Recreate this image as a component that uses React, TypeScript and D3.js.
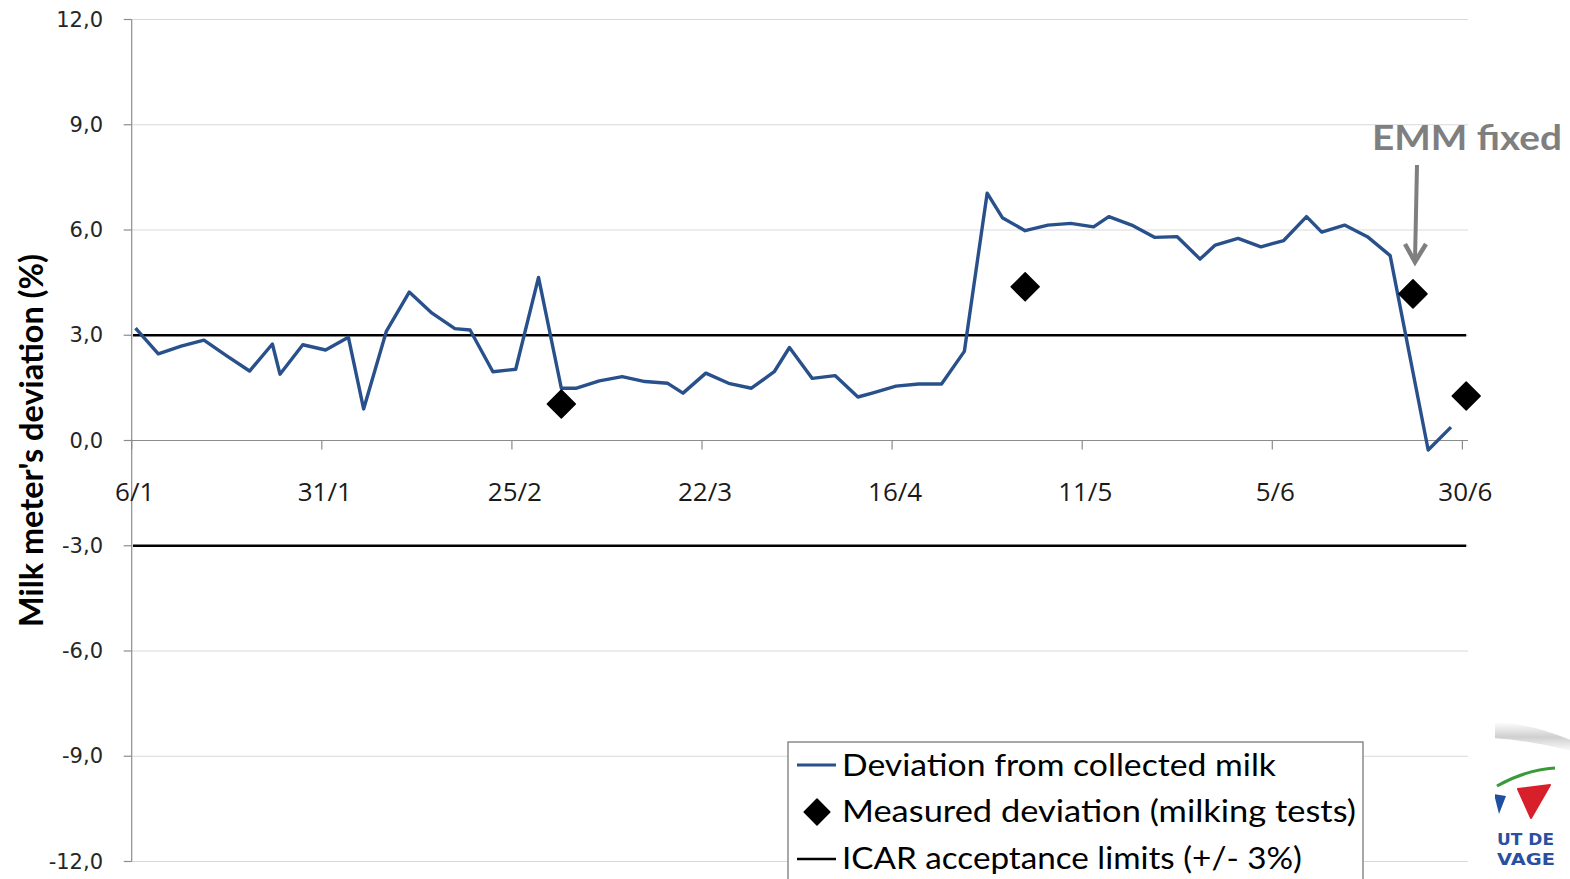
import React from "react";
import * as d3 from "d3";

// ---- Data ----
const lineDates = [
  "2011-01-06", "2011-01-09", "2011-01-12", "2011-01-15", "2011-01-18", "2011-01-21",
  "2011-01-24", "2011-01-25", "2011-01-28", "2011-01-31", "2011-02-03", "2011-02-05",
  "2011-02-08", "2011-02-11", "2011-02-14", "2011-02-17", "2011-02-19", "2011-02-22",
  "2011-02-25", "2011-02-28", "2011-03-03", "2011-03-05", "2011-03-08", "2011-03-11",
  "2011-03-14", "2011-03-17", "2011-03-19", "2011-03-22", "2011-03-25", "2011-03-28",
  "2011-03-31", "2011-04-02", "2011-04-05", "2011-04-08", "2011-04-11", "2011-04-13",
  "2011-04-16", "2011-04-19", "2011-04-22", "2011-04-25", "2011-04-28", "2011-04-30",
  "2011-05-03", "2011-05-06", "2011-05-09", "2011-05-12", "2011-05-14", "2011-05-17",
  "2011-05-20", "2011-05-23", "2011-05-26", "2011-05-28", "2011-05-31", "2011-06-03",
  "2011-06-06", "2011-06-09", "2011-06-11", "2011-06-14", "2011-06-17", "2011-06-20",
  "2011-06-25", "2011-06-28",
];
const lineValues = [
  3.2, 2.47, 2.69, 2.86, 2.41, 1.98,
  2.75, 1.89, 2.73, 2.58, 2.94, 0.9,
  3.12, 4.23, 3.63, 3.19, 3.15, 1.96,
  2.03, 4.65, 1.49, 1.49, 1.7, 1.82,
  1.68, 1.63, 1.35, 1.92, 1.63, 1.49,
  1.96, 2.65, 1.77, 1.85, 1.24, 1.36,
  1.55, 1.61, 1.61, 2.54, 7.05, 6.35,
  5.98, 6.14, 6.19, 6.09, 6.38, 6.14,
  5.79, 5.81, 5.17, 5.57, 5.76, 5.52,
  5.7, 6.38, 5.94, 6.14, 5.81, 5.27,
  -0.27, 0.38,
];
const testDates = ["2011-03-03", "2011-05-03", "2011-06-23", "2011-06-30"];
const testValues = [1.04, 4.38, 4.18, 1.27];
const icarLimits = [3, -3];
const yTicks = [-12, -9, -6, -3, 0, 3, 6, 9, 12];
const xTickDates = ["2011-01-06", "2011-01-31", "2011-02-25", "2011-03-22", "2011-04-16", "2011-05-11", "2011-06-05", "2011-06-30"];
const xTickLabels = ["6/1", "31/1", "25/2", "22/3", "16/4", "11/5", "5/6", "30/6"];
const legendLabels = [
  "Deviation from collected milk",
  "Measured deviation (milking tests)",
  "ICAR acceptance limits (+/- 3%)",
];
const yTitle = "Milk meter's deviation (%)";
const annotation = "EMM fixed";

// ---- Layout ----
const W = 1570;
const H = 879;
const left = 131.7;
const pxPerDay = 7.604;
const right = 1468;
const yTop = 19.5;
const yBottom = 861.5;

const parse = d3.utcParse("%Y-%m-%d");
const noon = (s: string) => d3.utcHour.offset(parse(s) as Date, 12);
const start = parse("2011-01-06") as Date;
const end = new Date(start.getTime() + ((right - left) / pxPerDay) * 864e5);

const x = d3.scaleUtc().domain([start, end]).range([left, right]);
const y = d3.scaleLinear().domain([-12, 12]).range([yBottom, yTop]);

const fmtY = (v: number) => d3.format(".1f")(v).replace(".", ",").replace("\u2212", "-");

const LINE_COLOR = "#28508a";

export default function App() {
  const lineData = lineDates.map((d, i) => ({ date: noon(d), value: lineValues[i] }));
  const linePath = d3
    .line<{ date: Date; value: number }>()
    .x((d) => x(d.date))
    .y((d) => y(d.value))(lineData) as string;

  const diamond = d3.symbol().type(d3.symbolSquare).size(392)() as string;
  const diamondLegend = d3.symbol().type(d3.symbolSquare).size(330)() as string;

  const icarX0 = x(noon(lineDates[0])) - 2.5;
  const icarX1 = x(noon(testDates[testDates.length - 1]));

  return (
    <svg
      width={W}
      height={H}
      style={{ position: "absolute", left: 0, top: 0, display: "block", background: "#fff" }}
    >
      <defs>
        <clipPath id="logoClip">
          <rect x={1495} y={700} width={80} height={179} />
        </clipPath>
        <linearGradient id="swoosh" x1="0" y1="0" x2="0" y2="1">
          <stop offset="0" stopColor="#ffffff" />
          <stop offset="0.5" stopColor="#cfcfcf" />
          <stop offset="1" stopColor="#ffffff" />
        </linearGradient>
      </defs>

      {/* gridlines */}
      {yTicks.filter((t) => t !== 0).map((t) => (
        <line key={"g" + t} x1={left} x2={right} y1={y(t)} y2={y(t)} stroke="#d9d9d9" strokeWidth={1} />
      ))}

      {/* y axis */}
      <line x1={left} x2={left} y1={yTop} y2={yBottom} stroke="#8c8c8c" strokeWidth={1.2} />
      {yTicks.map((t) => (
        <g key={"yt" + t}>
          <line x1={left - 8} x2={left} y1={y(t)} y2={y(t)} stroke="#8c8c8c" strokeWidth={1.2} />
          <text
            x={103}
            y={y(t)}
            textAnchor="end"
            dominantBaseline="central"
            fontFamily="DejaVu Sans, Verdana, sans-serif"
            fontSize={21}
            fill="#262626"
          >
            {fmtY(t)}
          </text>
        </g>
      ))}

      {/* x axis at zero */}
      <line x1={left} x2={right} y1={y(0)} y2={y(0)} stroke="#8c8c8c" strokeWidth={1.2} />
      {xTickDates.map((d, i) => {
        const xx = x(parse(d) as Date);
        return (
          <g key={"xt" + d}>
            <line x1={xx} x2={xx} y1={y(0)} y2={y(0) + 9} stroke="#8c8c8c" strokeWidth={1.2} />
            <text
              x={xx + 3}
              y={y(0) + 50}
              textAnchor="middle"
              dominantBaseline="central"
              fontFamily="Open Sans, sans-serif"
              fontSize={26}
              fill="#1a1a1a"
            >
              {xTickLabels[i]}
            </text>
          </g>
        );
      })}

      {/* ICAR limits */}
      {icarLimits.map((v) => (
        <line key={"icar" + v} x1={icarX0} x2={icarX1} y1={y(v)} y2={y(v)} stroke="#000" strokeWidth={2.6} />
      ))}

      {/* deviation line */}
      <path d={linePath} fill="none" stroke={LINE_COLOR} strokeWidth={3.4} strokeLinejoin="round" />

      {/* milking test diamonds */}
      {testDates.map((d, i) => (
        <path
          key={"dm" + d}
          d={diamond}
          transform={`translate(${x(noon(d))},${y(testValues[i])}) rotate(45)`}
          fill="#000"
          stroke="#000"
          strokeWidth={1.5}
          strokeLinejoin="round"
        />
      ))}

      {/* y title */}
      <text
        transform={`translate(43,${(yTop + yBottom) / 2}) rotate(-90)`}
        textAnchor="middle"
        fontFamily="Lato, Open Sans, sans-serif"
        fontWeight="bold"
        fontSize={32}
        textLength={373}
        lengthAdjust="spacingAndGlyphs"
        fill="#000"
      >
        {yTitle}
      </text>

      {/* annotation */}
      <text
        x={1372}
        y={150}
        fontFamily="Lato, Open Sans, sans-serif"
        fontWeight="bold"
        fontSize={35}
        textLength={190}
        lengthAdjust="spacingAndGlyphs"
        fill="#7f7f7f"
      >
        {annotation}
      </text>
      <line x1={1417} y1={165} x2={1415} y2={261} stroke="#7f7f7f" strokeWidth={4} />
      <polyline
        points="1405,244 1415,262 1426,244"
        fill="none"
        stroke="#7f7f7f"
        strokeWidth={4.5}
        strokeLinejoin="miter"
      />

      {/* legend */}
      <rect x={788} y={742} width={575} height={150} fill="#fff" stroke="#7a7a7a" strokeWidth={1.3} />
      <line x1={797} x2={836} y1={765} y2={765} stroke={LINE_COLOR} strokeWidth={3.2} />
      <path d={diamondLegend} transform="translate(817,812) rotate(45)" fill="#000" stroke="#000" strokeWidth={1.5} strokeLinejoin="round" />
      <line x1={797} x2={836} y1={859} y2={859} stroke="#000" strokeWidth={2.6} />
      {legendLabels.map((l, i) => (
        <text
          key={"lg" + i}
          x={842}
          y={[776, 822, 869][i]}
          fontFamily="Lato, Open Sans, sans-serif"
          fontSize={30}
          textLength={[434, 514, 460][i]}
          lengthAdjust="spacingAndGlyphs"
          fill="#000"
        >
          {l}
        </text>
      ))}

      {/* partial logo */}
      <g clipPath="url(#logoClip)">
        <path d="M1490,722 Q1530,722 1575,742 L1575,752 Q1530,740 1490,738 Z" fill="url(#swoosh)" />
        <path d="M1497,786 Q1525,770 1555,768" fill="none" stroke="#3a9a3a" strokeWidth={3} />
        <path d="M1494,794 L1506,796 L1499,814 Z" fill="#1f4fa0" />
        <path d="M1518,789 L1550,785 L1531,818 Z" fill="#d8202a" stroke="#d8202a" strokeWidth={2} strokeLinejoin="round" />
        <text x={1497} y={845} fontFamily="DejaVu Sans, sans-serif" fontWeight="bold" fontSize={15} fill="#2b4fa0" textLength={57} lengthAdjust="spacingAndGlyphs">UT DE</text>
        <text x={1497} y={865} fontFamily="DejaVu Sans, sans-serif" fontWeight="bold" fontSize={15} fill="#2b4fa0" textLength={58} lengthAdjust="spacingAndGlyphs">VAGE</text>
      </g>
    </svg>
  );
}
